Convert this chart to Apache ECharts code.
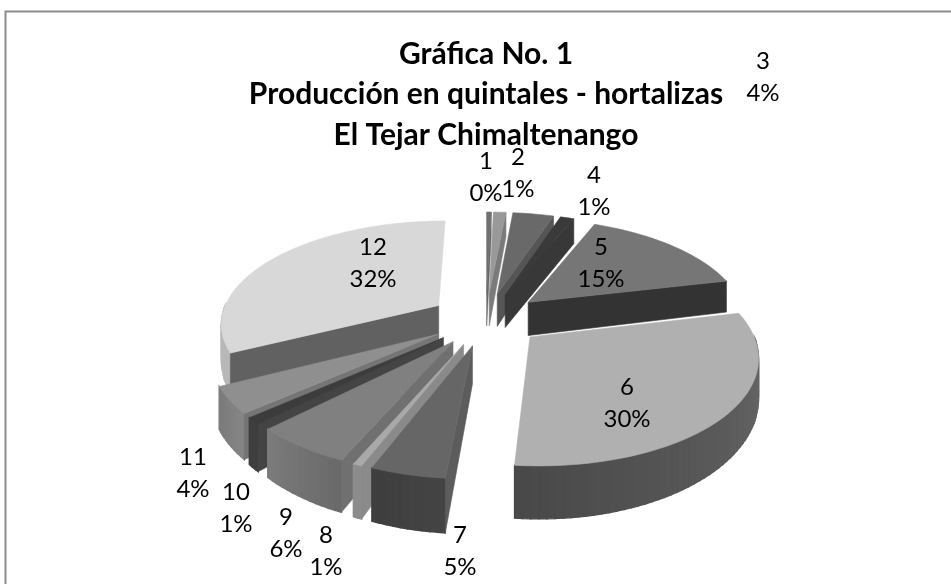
<!DOCTYPE html>
<html>
<head>
<meta charset="utf-8" />
<title>Gráfica No. 1</title>
<style>
  html, body { margin: 0; padding: 0; background: #fff; }
  #chart { width: 951px; height: 584px; }
</style>
<script src="https://cdn.jsdelivr.net/npm/echarts@6/dist/echarts.min.js"></script>
</head>
<body>
<div id="chart"></div>
<script>
const titleLines = ["Gráfica No. 1", "Producción en quintales - hortalizas", "El Tejar Chimaltenango"];
const categories = ["1", "2", "3", "4", "5", "6", "7", "8", "9", "10", "11", "12"];
const shares = [0.4, 1.1, 3.6, 1.2, 15, 30, 4.5, 0.55, 6, 1, 4, 32.4];

// styles per slice
const topColors = ["#707070", "#999999", "#696969", "#3a3a3a", "#767676", "#b0b0b0", "#666666", "#a9a9a9", "#808080", "#3c3c3c", "#8f8f8f", "#d8d8d8"];
const wallColors = ["#666666", "#7a7a7a", "#555555", "#383838", "#333333", "#555555", "#5c5c5c", "#8a8a8a", "#707070", "#444444", "#757575", "#616161"];
const rimFrom = ["#666666", "#7a7a7a", "#555555", "#383838", "#333333", "#6e6e6e", "#444444", "#8c8c8c", "#6a6a6a", "#3e3e3e", "#858585", "#b8b8b8"];
const rimTo = ["#666666", "#7a7a7a", "#555555", "#383838", "#333333", "#484848", "#3e3e3e", "#8c8c8c", "#7c7c7c", "#3e3e3e", "#7a7a7a", "#b8b8b8"];
// label centres, px
const labelX = [486, 518, 763, 594, 601, 627, 460, 326, 286, 236, 193, 373];
const labelY = [177, 173, 77, 191, 263, 403, 551, 551, 533, 508, 473, 263];

// pie projection
const cx = 486, cy = 319, R = 218, Rk = 102, persp = 0.16, depth = 35, explode = 0.26;

function project(x, y, down) {
  const s = 1 / (1 - persp * y);
  return [cx + R * x * s, cy + Rk * y * s + (down ? depth * s * s : 0)];
}

function mix(a, b, t) {
  const ca = parseInt(a.slice(1), 16), cb = parseInt(b.slice(1), 16);
  const v = Math.round((ca & 255) + ((cb & 255) - (ca & 255)) * t);
  return "rgb(" + v + "," + v + "," + v + ")";
}

function poly(points, color, line) {
  return {
    type: "polygon",
    shape: { points: points },
    style: { fill: color, stroke: color, lineWidth: line || 0.6 },
  };
}

const total = shares.reduce((a, b) => a + b, 0);
let running = 0;
const sliceData = shares.map((v, i) => {
  const from = running / total;
  running += v;
  return [from, running / total, i];
});
// back slices first
sliceData.sort((a, b) => -Math.cos(Math.PI * (a[0] + a[1])) - -Math.cos(Math.PI * (b[0] + b[1])));

function renderSlice(params, api) {
  const t0 = api.value(0) * Math.PI * 2;
  const t1 = api.value(1) * Math.PI * 2;
  const i = api.value(2);
  const mid = (t0 + t1) / 2;
  const ox = explode * Math.sin(mid);
  const oy = -explode * Math.cos(mid);
  const rim = (t) => [ox + Math.sin(t), oy - Math.cos(t)];

  const children = [];
  const steps = Math.max(2, Math.ceil((t1 - t0) / 0.03));

  // outer wall, front half only; thick stroke hides the seams between strips
  for (let n = 0; n < steps; n++) {
    const a = t0 + ((t1 - t0) * n) / steps;
    const b = t0 + ((t1 - t0) * (n + 1)) / steps;
    if (-Math.cos((a + b) / 2) <= 0) continue;
    const pa = rim(a), pb = rim(b);
    children.push(poly([
      project(pa[0], pa[1]), project(pb[0], pb[1]),
      project(pb[0], pb[1], true), project(pa[0], pa[1], true),
    ], mix(rimFrom[i], rimTo[i], n / steps), 1.4));
  }

  // radial walls that face the viewer
  const sideAngle = Math.sin(t0) < 0 ? t0 : Math.sin(t1) > 0 ? t1 : null;
  if (sideAngle !== null) {
    const p = rim(sideAngle);
    children.push(poly([
      project(ox, oy), project(p[0], p[1]),
      project(p[0], p[1], true), project(ox, oy, true),
    ], wallColors[i]));
  }

  // top face
  const top = [project(ox, oy)];
  for (let n = 0; n <= steps; n++) {
    const p = rim(t0 + ((t1 - t0) * n) / steps);
    top.push(project(p[0], p[1]));
  }
  children.push(poly(top, topColors[i]));

  return { type: "group", children: children };
}

const myChart = echarts.init(document.getElementById("chart"), null, { renderer: "canvas" });

const option = {
  backgroundColor: "#ffffff",
  animation: false,
  graphic: [
    {
      type: "polyline",
      shape: { points: [[5.5, 584], [5.5, 11.5], [951, 11.5]] },
      style: { fill: null, stroke: "#8c8c8c", lineWidth: 2 },
    },
    ...titleLines.map((t, i) => ({
      type: "text",
      z: 10,
      style: {
        text: t,
        x: 486,
        y: 54 + i * 40.5,
        align: "center",
        verticalAlign: "middle",
        font: 'bold 30px Lato, "Open Sans", sans-serif',
        fill: "#000000",
      },
    })),
    ...categories.map((c, i) => ({
      type: "text",
      z: 10,
      style: {
        text: c + "\n" + Math.round((shares[i] / total) * 100) + "%",
        x: labelX[i],
        y: labelY[i],
        align: "center",
        verticalAlign: "middle",
        lineHeight: 32,
        font: '24px Lato, "Open Sans", sans-serif',
        fill: "#000000",
      },
    })),
  ],
  series: [
    {
      type: "custom",
      coordinateSystem: "none",
      renderItem: renderSlice,
      data: sliceData,
      silent: true,
    },
  ],
};
myChart.setOption(option);
window.onresize = function () {
  myChart.resize();
};
</script>
</body>
</html>
